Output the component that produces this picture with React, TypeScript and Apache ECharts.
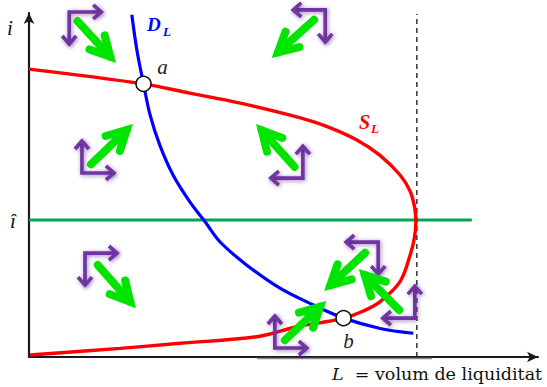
import React, { useEffect, useRef } from "react";
import * as echarts from "echarts";

// ---- data (abstract units: L on x 0..100, i on y 0..100) ----
const axisMaxL = 100;
const axisMaxI = 100;

// Liquidity supply S_L (backward bending)
const supplyCurve: number[][] = [
  [0, 83.7], [22.5, 79.4], [31.6, 76.7], [41.5, 73.8], [51.3, 70.3],
  [57.8, 67.4], [64.4, 63.1], [68.9, 58.7], [72.9, 52.9], [74.9, 48.1],
  [75.8, 43.2], [76.0, 39.2], [75.7, 34.5], [74.9, 29.7], [72.9, 21.9],
  [69.0, 16.1], [65.6, 13.3], [61.8, 11.3], [57.0, 9.9], [52.6, 8.8],
  [44.7, 5.9], [29.7, 4.0], [17.9, 2.5], [0.2, 0.6],
];

// Liquidity demand D_L
const demandCurve: number[][] = [
  [20.2, 99.5], [21.2, 89.2], [22.5, 79.4], [23.8, 70.3], [25.7, 61.6],
  [28.3, 52.9], [31.6, 45.1], [34.6, 39.3], [37.5, 33.5], [42.8, 26.7],
  [49.3, 20.0], [55.9, 15.1], [61.8, 11.3], [69.0, 8.3], [75.5, 6.9],
];

// Equilibria
const equilibriumNames = ["a", "b"];
const equilibriumPoints: number[][] = [[22.5, 79.4], [61.8, 11.3]];

// i-hat level and its extent
const iHat = 39.8;
const iHatEnd = 87.0;

// maximum liquidity volume (dashed)
const lMax = 76.2;
const lMaxTop = 99.7;

// underline segment of the L axis
const axisUnderline: number[][] = [[44.8, -0.45], [79.2, -0.45]];

// green force arrows: [xFrom, yFrom, xTo, yTo]
const forceArrows: number[][] = [
  [9.0, 98.5, 16.9, 85.8],
  [56.6, 98.8, 47.9, 87.2],
  [11.6, 55.2, 20.2, 67.4],
  [52.7, 54.4, 44.8, 67.4],
  [13.0, 27.6, 20.8, 14.5],
  [66.6, 31.1, 58.2, 19.5],
  [73.3, 12.8, 65.0, 25.3],
  [49.7, 4.1, 58.2, 16.0],
];

// purple direction icons: [xCorner, yCorner, horizontalDir(+1 right/-1 left), verticalDir(+1 up/-1 down)]
const directionIcons: number[][] = [
  [7.9, 100.3, 1, -1],
  [58.2, 100.9, -1, -1],
  [10.4, 53.5, 1, 1],
  [53.8, 52.0, -1, 1],
  [11.0, 30.2, 1, -1],
  [68.6, 33.4, -1, -1],
  [75.8, 11.3, -1, 1],
  [48.3, 2.6, 1, 1],
];

// ---- styles ----
const GREEN_ARROW = "#00e400";
const PURPLE = "#7034a2";
const RED = "#ff0000";
const BLUE = "#0000ff";
const LINE_GREEN = "#00a651";
const SERIF = '"Liberation Serif", "DejaVu Serif", serif';

// label offsets from the equilibrium marker centre (pixels)
const labelOffsets: Record<string, number[]> = { a: [19, -17], b: [5, 23] };

function renderArrow(_params: any, api: any) {
  const p0 = api.coord([api.value(0), api.value(1)]);
  const p1 = api.coord([api.value(2), api.value(3)]);
  const dx = p1[0] - p0[0];
  const dy = p1[1] - p0[1];
  const len = Math.hypot(dx, dy);
  const ux = dx / len;
  const uy = dy / len;
  const tip = [p1[0] - ux * 7, p1[1] - uy * 7];
  const ang = (28 * Math.PI) / 180;
  const arm = 22;
  const bx = -ux;
  const by = -uy;
  const rot = (a: number) => [
    tip[0] + arm * (bx * Math.cos(a) - by * Math.sin(a)),
    tip[1] + arm * (bx * Math.sin(a) + by * Math.cos(a)),
  ];
  const style = { stroke: GREEN_ARROW, lineWidth: 8, lineCap: "round", lineJoin: "miter", fill: null };
  return {
    type: "group",
    children: [
      { type: "line", shape: { x1: p0[0] + ux * 4, y1: p0[1] + uy * 4, x2: tip[0], y2: tip[1] }, style },
      { type: "polyline", shape: { points: [rot(ang), tip, rot(-ang)] }, style },
    ],
  };
}

function renderIcon(_params: any, api: any) {
  const c = api.coord([api.value(0), api.value(1)]);
  const h = api.value(2);
  const v = api.value(3);
  const L = 32;
  const hx = c[0] + L * h;
  const vy = c[1] - L * v;
  const head = 8;
  const half = 7;
  const style = {
    stroke: PURPLE,
    lineWidth: 3.6,
    fill: null,
    lineJoin: "miter",
    lineCap: "butt",
    shadowBlur: 4,
    shadowColor: "rgba(80,30,130,0.55)",
    shadowOffsetX: 1,
    shadowOffsetY: 1,
  };
  return {
    type: "group",
    children: [
      { type: "polyline", shape: { points: [[hx, c[1]], [c[0], c[1]], [c[0], vy]] }, style },
      { type: "polyline", shape: { points: [[hx - head * h, c[1] - half], [hx, c[1]], [hx - head * h, c[1] + half]] }, style },
      { type: "polyline", shape: { points: [[c[0] - half, vy + head * v], [c[0], vy], [c[0] + half, vy + head * v]] }, style },
    ],
  };
}

export default function App() {
  const ref = useRef<HTMLDivElement>(null);
  useEffect(() => {
    if (!ref.current) return;
    const chart = echarts.init(ref.current, null, { renderer: "svg" });
    const axisCommon = {
      type: "value",
      axisTick: { show: false },
      axisLabel: { show: false },
      splitLine: { show: false },
    };
    chart.setOption({
      animation: false,
      backgroundColor: "#ffffff",
      grid: { left: 29, right: 9, top: 13, bottom: 30 },
      xAxis: {
        ...axisCommon,
        min: 0,
        max: axisMaxL,
        axisLine: { show: true, symbol: ["none", "arrow"], symbolSize: [8, 11], lineStyle: { color: "#1a1a1a", width: 2.2 } },
      },
      yAxis: {
        ...axisCommon,
        min: 0,
        max: axisMaxI,
        axisLine: { show: true, symbol: ["none", "arrow"], symbolSize: [8, 11], lineStyle: { color: "#1a1a1a", width: 2.2 } },
      },
      series: [
        {
          type: "line",
          data: [[0, iHat], [iHatEnd, iHat]],
          showSymbol: false,
          lineStyle: { color: LINE_GREEN, width: 3 },
          z: 2,
        },
        {
          type: "line",
          data: [[lMax, 0], [lMax, lMaxTop]],
          showSymbol: false,
          lineStyle: { color: "#222", width: 1.4, type: [5, 4] },
          z: 2,
        },
        {
          type: "line",
          data: axisUnderline,
          showSymbol: false,
          clip: false,
          lineStyle: { color: "#8a8a8a", width: 1.5 },
          z: 2,
        },
        {
          type: "line",
          data: demandCurve,
          smooth: 0.35,
          showSymbol: false,
          clip: false,
          lineStyle: { color: BLUE, width: 3.2 },
          z: 3,
        },
        {
          type: "line",
          data: supplyCurve,
          smooth: 0.35,
          showSymbol: false,
          lineStyle: { color: RED, width: 3.4 },
          z: 3,
        },
        {
          type: "custom",
          renderItem: renderIcon,
          data: directionIcons,
          clip: false,
          z: 4,
        },
        {
          type: "custom",
          renderItem: renderArrow,
          data: forceArrows,
          clip: false,
          z: 5,
        },
        {
          type: "scatter",
          data: equilibriumPoints,
          symbol: "circle",
          symbolSize: 15,
          itemStyle: { color: "#fff", borderColor: "#111", borderWidth: 1.6, opacity: 1 },
          z: 6,
        },
      ],
    });

    const pointLabels = equilibriumPoints.map((p, k) => {
      const name = equilibriumNames[k];
      const px = chart.convertToPixel({ gridIndex: 0 }, p) as number[];
      const off = labelOffsets[name];
      return {
        type: "text",
        x: px[0] + off[0],
        y: px[1] + off[1],
        z: 100,
        style: {
          text: name,
          fill: "#222",
          font: `italic 21px ${SERIF}`,
          textAlign: "center",
          textVerticalAlign: "middle",
          align: "center",
          verticalAlign: "middle",
        },
      };
    });

    const txt = (x: number, y: number, text: string, fill: string, font: string, align = "left") => ({
      type: "text",
      x,
      y,
      z: 100,
      style: { text, fill, font, textAlign: align, textVerticalAlign: "middle", align, verticalAlign: "middle" },
    });

    chart.setOption({
      graphic: [
        ...pointLabels,
        txt(10, 28, "i", "#111", `italic 21px ${SERIF}`, "center"),
        txt(13, 221, "î", "#111", `italic 21px ${SERIF}`, "center"),
        txt(147, 24, "D", BLUE, `italic bold 19px ${SERIF}`),
        txt(163, 31, "L", BLUE, `italic bold 13px ${SERIF}`),
        txt(359, 122, "S", RED, `italic bold 20px ${SERIF}`),
        txt(371, 128, "L", RED, `italic bold 13px ${SERIF}`),
        {
          type: "text",
          x: 332,
          y: 374,
          z: 100,
          style: {
            text: "{it|L}{n|  = volum de liquiditat}",
            rich: {
              it: { fontFamily: '"DejaVu Serif", serif', fontStyle: "italic", fontSize: 17.5, fill: "#111", color: "#111" },
              n: { fontFamily: '"DejaVu Serif", serif', fontSize: 17.5, fill: "#111", color: "#111" },
            },
            fill: "#111",
            textAlign: "left",
            textVerticalAlign: "middle",
            align: "left",
            verticalAlign: "middle",
          },
        },
      ],
    });
    return () => chart.dispose();
  }, []);
  return (
    <div
      ref={ref}
      style={{ position: "absolute", left: 0, top: 0, width: 547, height: 387, background: "#fff" }}
    />
  );
}
